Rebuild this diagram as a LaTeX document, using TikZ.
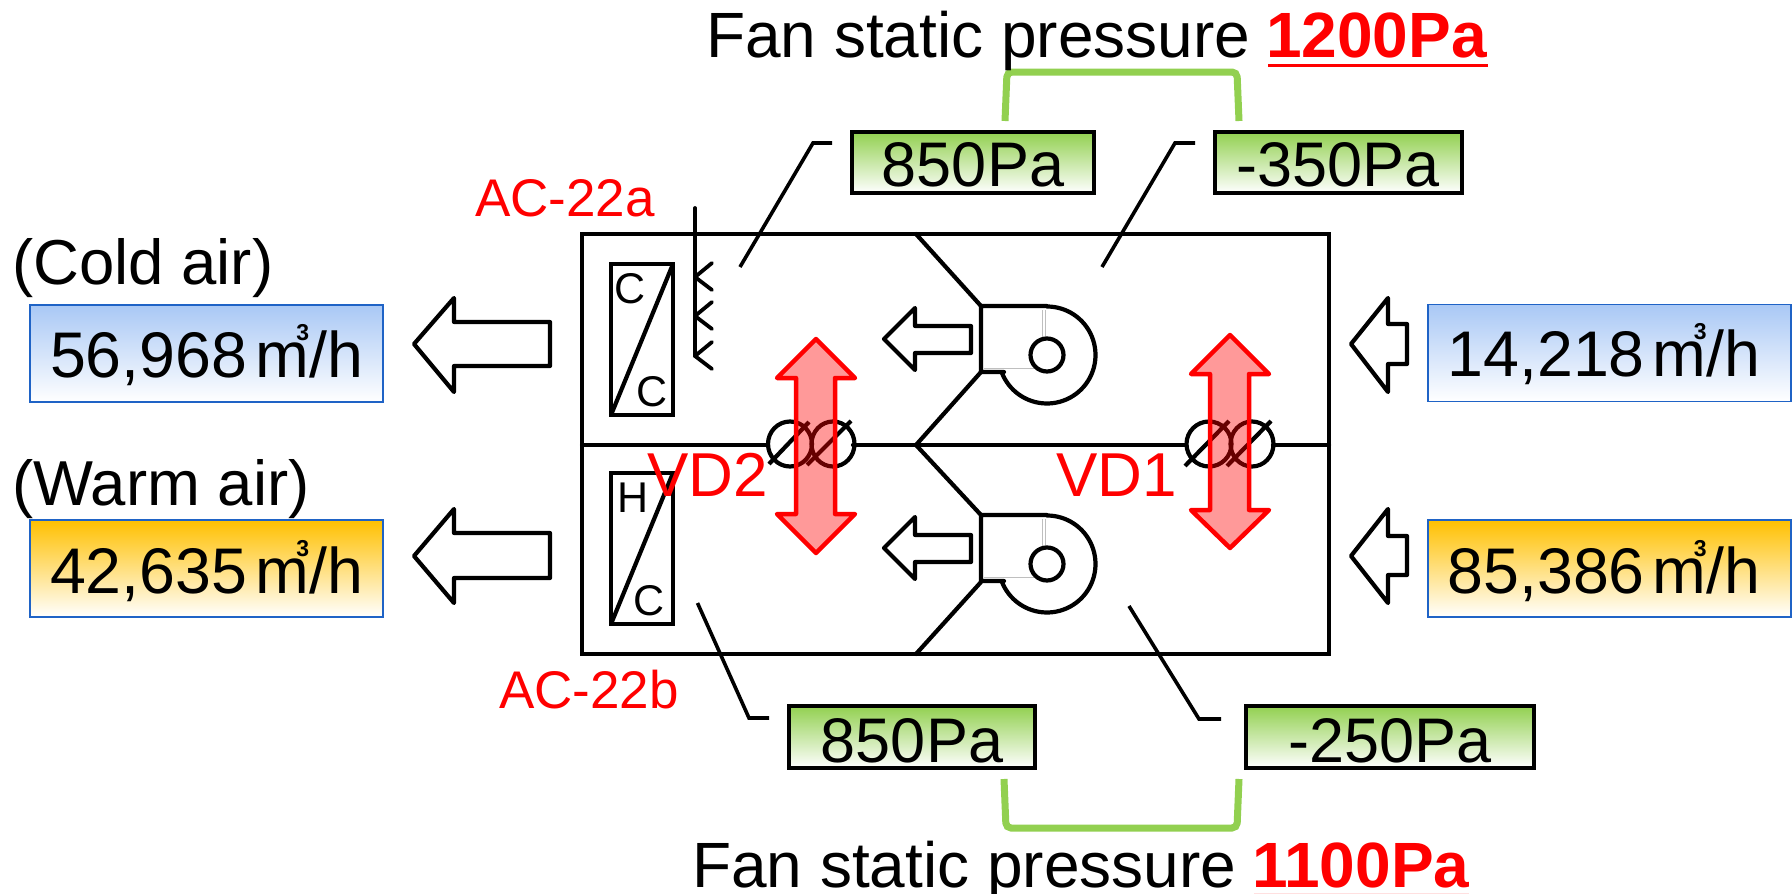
\documentclass[tikz,border=0pt]{standalone}
\usepackage{fontspec}
\setmainfont{Liberation Sans}
\definecolor{gbar}{HTML}{92D050}
\definecolor{bluetop}{HTML}{A9C8F5}
\definecolor{oratop}{HTML}{FFC000}
\definecolor{bord}{HTML}{1F63C6}
\newcommand{\fs}[1]{\fontsize{#1}{#1}\selectfont}
\newcommand{\cub}{\hspace{8pt}m\llap{\raisebox{37pt}{\fs{23}\bfseries 3}}/h}
\tikzset{
  x=1pt,y=-1pt,
  ln/.style={line width=4.2pt,line join=round,line cap=round},
  thinl/.style={line width=3.6pt,line join=miter,line cap=butt},
  txt/.style={anchor=base west,inner sep=0pt,font=\fs{64}},
  redtxt/.style={txt,text=red},
  smalltxt/.style={anchor=center,inner sep=0pt,font=\fs{43}},
  flowbox/.style={draw=bord,line width=1.8pt,anchor=center,inner sep=0pt,font=\fs{64.5},text height=47pt,text depth=0pt,minimum width=353pt,minimum height=97pt},
  coldbox/.style={flowbox,top color=bluetop,bottom color=white},
  warmbox/.style={flowbox,top color=oratop,bottom color=white},
  pabox/.style={draw=black,line width=4pt,anchor=center,inner sep=0pt,font=\fs{63},text height=47pt,text depth=0pt,top color=gbar,bottom color=white,minimum height=61pt},
  bracket/.style={draw=gbar,line width=7pt,rounded corners=5pt},
  redarrow/.style={draw=red,fill=red,fill opacity=.4,line width=4.5pt,line join=round},
  graybit/.style={draw=black!25,line width=1pt},
}
\begin{document}
\begin{tikzpicture}
\useasboundingbox (0,0) rectangle (1792,894);
\fill[white] (0,0) rectangle (1792,894);

% casing
\draw[ln,line join=miter] (582,234) rectangle (1329,654);
\coordinate (wl) at (582,445);
\coordinate (wc) at (916,445);
\coordinate (wr) at (1329,445);
\draw[ln] (wl) -- (768,445);
\draw[ln] (853,445) -- (1186,445);
\draw[ln] (1273,445) -- (wr);
\draw[ln] (916,234) -- (981,306);
\draw[ln] (981,372) -- (wc) -- (981,515);
\draw[ln] (981,582) -- (916,654);

% fans
\foreach \dy in {0,209}{
  \draw[graybit] (1042,{310+\dy}) -- (1042,{338+\dy});
  \draw[graybit] (1045,{310+\dy}) -- (1045,{338+\dy});
  \draw[graybit] (984,{368+\dy}) -- (1036,{368+\dy});
  \draw[ln] (1004,{372+\dy}) -- (981,{372+\dy}) -- (981,{306+\dy}) -- (1047,{306+\dy})
    plot[domain=-90:159,samples=60,smooth] ({1047+48.5*cos(\x)},{355+\dy+48.5*sin(\x)});
  \draw[ln] (1047,{355+\dy}) circle[radius=16.5pt];
  \draw[ln] (884,{339+\dy}) -- (915,{308+\dy}) -- (915,{326+\dy}) -- (971,{326+\dy}) -- (971,{353+\dy}) -- (915,{353+\dy}) -- (915,{370+\dy}) -- cycle;
}

% coils
\draw[ln,line join=miter,line width=4.4pt] (611,264) rectangle (673,415);
\draw[ln] (673,264) -- (611,415);
\node[smalltxt] (cu1) at (630,289) {C};
\node[smalltxt] (cu2) at (652,392) {C};
\draw[ln,line join=miter,line width=4.4pt] (611,473) rectangle (673,624);
\draw[ln] (673,473) -- (611,624);
\node[smalltxt] (hl) at (633,498) {H};
\node[smalltxt] (cl) at (649,601) {C};

% filter
\draw[ln,line width=3.8pt] (695,208) -- (695,356);
\foreach \yy in {277,316,356}{
  \draw[ln,line width=3.8pt] (712,{\yy-14}) -- (695,\yy) -- (712,{\yy+13});
}

% dampers
\foreach \cx/\r in {790/22,833/21.5,1209/22.5,1252/21.5}{
  \draw[ln] (\cx,444) circle[x radius=\r pt,y radius=22.5pt];
}
\draw[ln,line cap=butt] (769,464) -- (809,422);
\draw[ln,line cap=butt] (807,465) -- (851,421);
\draw[ln,line cap=butt] (1185,466) -- (1229,421);
\draw[ln,line cap=butt] (1227,466) -- (1271,421);

% red double arrows
\draw[redarrow] (816,339) -- (855,378) -- (835,378) -- (835,514) -- (855,514) -- (816,553) -- (777,514) -- (796,514) -- (796,378) -- (777,378) -- cycle;
\draw[redarrow] (1230,335) -- (1269,374) -- (1249,374) -- (1249,510) -- (1269,510) -- (1230,548) -- (1191,510) -- (1210,510) -- (1210,374) -- (1191,374) -- cycle;
\node[redtxt,font=\fs{62}] (vd2) at (647,496) {VD2};
\node[redtxt,font=\fs{62}] (vd1) at (1056,496) {VD1};
\node[redtxt,font=\fs{53}] (aca) at (475,216) {AC-22a};
\node[redtxt,font=\fs{53}] (acb) at (499,708) {AC-22b};

% flow arrows
\draw[ln] (414,344) -- (454,298) -- (454,322) -- (550,322) -- (550,366) -- (454,366) -- (454,392) -- cycle;
\draw[ln] (414,556) -- (454,509) -- (454,533) -- (550,533) -- (550,578) -- (454,578) -- (454,603) -- cycle;
\draw[ln] (1351,344) -- (1388,298) -- (1388,324) -- (1407,324) -- (1407,364) -- (1388,364) -- (1388,392) -- cycle;
\draw[ln] (1351,556) -- (1388,509) -- (1388,536) -- (1407,536) -- (1407,575) -- (1388,575) -- (1388,603) -- cycle;

% flow boxes
\node[txt,font=\fs{63.5}] (cold) at (12,284) {(Cold air)};
\node[txt,font=\fs{63.5}] (warm) at (12,505) {(Warm air)};
\node[coldbox] (q1) at (206.5,353.5) {56,968\cub};
\node[warmbox,text height=49pt] (q2) at (206.5,568.5) {42,635\cub};
\node[coldbox,minimum width=363pt] (q3) at (1609.5,353) {14,218\cub\rule{11pt}{0pt}};
\node[warmbox,minimum width=363pt,text height=49pt] (q4) at (1609.5,568.5) {85,386\cub\rule{11pt}{0pt}};

% pressure boxes
\node[pabox,minimum width=242pt] (p1) at (973,162.5) {850Pa};
\node[pabox,minimum width=247pt] (p2) at (1338,162.5) {-350Pa};
\node[pabox,minimum width=246pt,minimum height=62pt,text height=50pt] (p3) at (912,737) {850Pa};
\node[pabox,minimum width=288pt,minimum height=62pt,text height=50pt] (p4) at (1390,737) {-250Pa};

% leaders
\coordinate (l1a) at (740,267); \coordinate (l1b) at (813,143); \coordinate (l1c) at (832,143);
\coordinate (l2a) at (1102,267); \coordinate (l2b) at (1175,143); \coordinate (l2c) at (1195,143);
\coordinate (l3a) at (697.5,603); \coordinate (l3b) at (749,718); \coordinate (l3c) at (769,718);
\coordinate (l4a) at (1129,606); \coordinate (l4b) at (1199,719); \coordinate (l4c) at (1221,719);
\draw[thinl] (l1a) -- (l1b) -- (l1c);
\draw[thinl] (l2a) -- (l2b) -- (l2c);
\draw[thinl] (l3a) -- (l3b) -- (l3c);
\draw[thinl] (l4a) -- (l4b) -- (l4c);

% brackets
\coordinate (b1a) at (1005,121); \coordinate (b1b) at (1007,72); \coordinate (b1c) at (1237,72); \coordinate (b1d) at (1239,121);
\coordinate (b2a) at (1004,779); \coordinate (b2b) at (1006,828); \coordinate (b2c) at (1237,828); \coordinate (b2d) at (1239,779);
\draw[bracket] (b1a) -- (b1b) -- (b1c) -- (b1d);
\draw[bracket] (b2a) -- (b2b) -- (b2c) -- (b2d);

% titles
\node[txt] (t1) at (706,57) {Fan static pressure};
\node[redtxt,font=\fs{64}\bfseries] (t1v) at (1266,57) {1200Pa};
\fill[red] (1268,63.5) rectangle (1488,66.5);
\node[txt] (t2) at (692,887) {Fan static pressure};
\node[redtxt,font=\fs{64}\bfseries] (t2v) at (1252,887) {1100Pa};
\fill[red!12] (1254,893) rectangle (1469,894);
\end{tikzpicture}
\end{document}
